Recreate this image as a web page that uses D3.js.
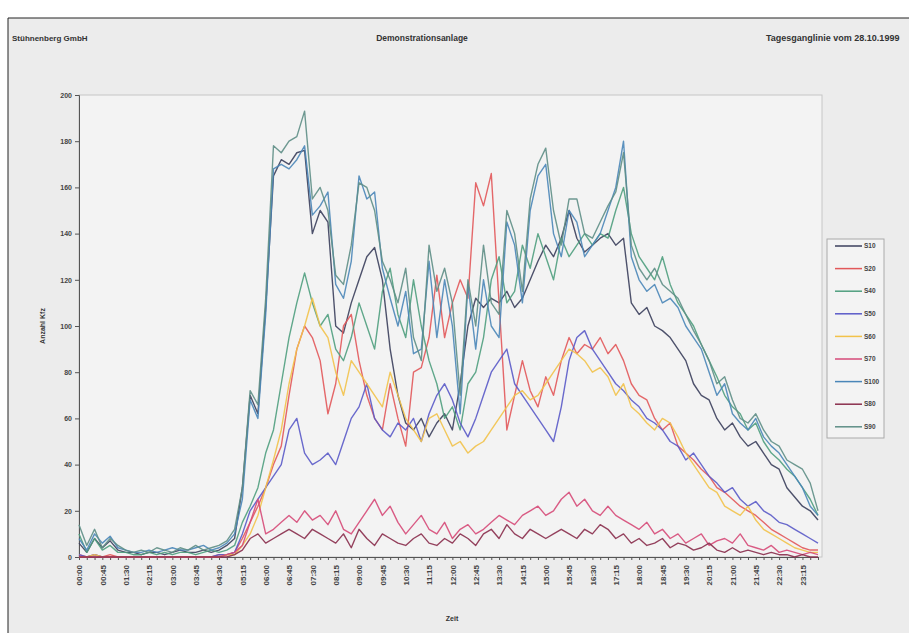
<html>
<head>
<style>
body
{
  margin:0;
  background:#fff;
}
</style>
<script src="https://cdnjs.cloudflare.com/ajax/libs/d3/7.8.5/d3.min.js"></script>
</head>
<body>
<script>
// 15 minute intervals over the day
var times = [
  "00:00","00:15","00:30","00:45","01:00","01:15","01:30","01:45","02:00","02:15","02:30","02:45",
  "03:00","03:15","03:30","03:45","04:00","04:15","04:30","04:45","05:00","05:15","05:30","05:45",
  "06:00","06:15","06:30","06:45","07:00","07:15","07:30","07:45","08:00","08:15","08:30","08:45",
  "09:00","09:15","09:30","09:45","10:00","10:15","10:30","10:45","11:00","11:15","11:30","11:45",
  "12:00","12:15","12:30","12:45","13:00","13:15","13:30","13:45","14:00","14:15","14:30","14:45",
  "15:00","15:15","15:30","15:45","16:00","16:15","16:30","16:45","17:00","17:15","17:30","17:45",
  "18:00","18:15","18:30","18:45","19:00","19:15","19:30","19:45","20:00","20:15","20:30","20:45",
  "21:00","21:15","21:30","21:45","22:00","22:15","22:30","22:45","23:00","23:15","23:30","23:45"
];

var tickLabels = [
  "00:00","00:45","01:30","02:15","03:00","03:45","04:30","05:15","06:00","06:45","07:30","08:15",
  "09:00","09:45","10:30","11:15","12:00","12:45","13:30","14:15","15:00","15:45","16:30","17:15",
  "18:00","18:45","19:30","20:15","21:00","21:45","22:30","23:15"
];

var yTicks = [0, 20, 40, 60, 80, 100, 120, 140, 160, 180, 200];

var seriesNames = ["S10", "S20", "S40", "S50", "S60", "S70", "S100", "S80", "S90"];
var seriesColors = ["#3b3f5c", "#e2585a", "#4f9e7e", "#5a5ac8", "#f2c24a", "#d64a78", "#4a86b8", "#8a2e4c", "#5e8e86"];

var s10 = [6,2,8,4,7,3,2,2,1,2,2,1,2,3,2,2,3,2,3,5,8,
  30,70,62,108,165,172,170,175,176,140,150,145,100,97,110,120,130,134,120,90,70,58,55,60,52,58,62,55,75,100,
  112,108,112,110,115,108,112,120,128,135,130,138,150,138,132,135,138,140,135,138,110,105,108,100,98,95,90,85,75,70,
  68,60,55,58,52,48,50,45,40,38,30,26,22,20,16];
var s20 = [1,0,1,0,1,0,0,0,0,0,0,0,0,0,0,0,0,0,1,1,2,
  8,15,22,30,40,48,70,90,100,95,85,62,75,100,105,85,70,60,55,75,60,48,80,82,95,
  122,95,110,120,112,162,152,166,110,55,70,85,72,65,78,70,85,95,88,92,90,95,88,92,85,
  75,70,68,60,55,58,48,45,42,38,35,30,28,25,22,20,18,15,12,10,8,6,4,3,3];
var s40 = [10,2,8,3,5,2,2,1,1,2,1,2,1,2,2,1,2,3,2,3,5,
  15,22,30,45,55,75,95,110,123,110,100,105,90,85,95,110,100,90,115,125,105,95,120,100,85,
  75,60,65,55,75,80,95,120,130,110,115,135,125,140,130,120,138,130,135,140,135,140,138,150,160,
  140,130,125,120,130,118,110,105,100,92,85,78,70,65,62,55,58,50,45,42,38,35,30,25,18];
var s50 = [1,0,1,0,0,0,0,0,0,0,0,0,0,0,0,0,0,0,1,1,2,
  10,20,25,30,35,40,55,60,45,40,42,45,40,50,60,65,75,60,55,52,58,55,60,50,62,
  70,75,68,58,52,60,70,80,85,90,75,70,65,60,55,50,65,85,95,98,90,85,80,75,72,
  68,65,60,58,55,50,48,42,45,40,35,32,28,30,25,22,24,20,18,15,14,12,10,8,6];
var s60 = [0,0,1,0,0,0,0,0,0,0,0,0,0,0,0,0,0,0,0,1,1,
  5,10,18,30,42,55,75,90,100,112,100,95,80,70,85,80,75,70,65,80,70,60,55,50,60,
  62,55,48,50,45,48,50,55,60,65,70,72,68,70,75,80,85,90,88,85,80,82,78,70,75,
  65,62,58,55,60,58,52,45,40,35,30,28,22,20,18,22,16,12,10,8,6,4,3,2,2];
var s70 = [0,0,0,0,0,0,0,0,0,0,0,0,0,0,0,0,0,0,0,1,2,
  5,15,25,10,12,15,18,15,20,16,18,14,20,12,10,15,20,25,18,22,15,10,14,18,12,
  10,15,8,12,14,10,12,15,18,16,14,18,20,22,18,20,25,28,22,25,20,18,22,18,16,
  14,12,15,10,12,8,10,6,8,10,5,7,8,6,10,5,4,3,5,2,3,2,1,2,1];
var s100 = [8,3,10,6,9,4,3,2,2,3,2,3,4,3,3,4,5,3,4,6,10,
  25,68,60,105,168,170,168,172,178,148,152,158,118,112,128,165,155,158,125,112,100,115,88,90,128,
  95,120,100,62,118,90,120,100,95,145,135,110,150,165,170,140,130,150,145,130,135,140,150,160,180,
  130,120,115,118,110,112,108,100,95,90,80,70,75,62,58,55,60,52,48,45,40,35,30,22,18];
var s80 = [0,0,0,0,0,0,0,0,0,0,0,0,0,0,0,0,0,0,0,0,1,
  3,8,10,6,8,10,12,10,8,12,10,8,6,10,4,12,8,5,10,8,6,5,8,10,6,
  5,8,6,10,8,5,10,12,8,14,10,8,12,10,8,10,12,10,8,12,10,14,12,8,10,
  6,8,5,6,8,4,6,5,3,4,6,3,2,4,2,3,2,1,2,1,1,0,1,0,0];
var s90 = [14,5,12,4,8,5,3,2,3,2,4,3,2,4,3,5,3,4,5,7,12,
  30,72,66,112,178,175,180,182,193,155,160,150,122,118,135,162,160,150,128,120,110,125,95,85,135,
  115,125,110,70,120,100,135,110,105,150,140,115,155,170,177,150,135,155,155,140,138,145,152,158,175,
  135,125,120,125,118,115,112,105,98,92,85,75,78,68,60,58,62,55,50,48,42,40,38,32,20];

var seriesValues = [s10, s20, s40, s50, s60, s70, s100, s80, s90];

var W = 909, H = 633;
var plotLeft = 79, plotRight = 818, plotTop = 95, plotBottom = 557;
var fontFam = "'Liberation Sans', Arial, sans-serif";

var svg = d3.select("body").append("svg")
  .attr("width", W)
  .attr("height", H)
  .style("font-family", fontFam);

// chart area
svg.append("rect").attr("x", 8).attr("y", 18).attr("width", W).attr("height", H)
  .attr("fill", "#ececec");
svg.append("line").attr("x1", 8).attr("x2", W).attr("y1", 18).attr("y2", 18).attr("stroke", "#222");
svg.append("line").attr("x1", 8).attr("x2", 8).attr("y1", 18).attr("y2", H).attr("stroke", "#222");

// header
svg.append("text").attr("x", 12).attr("y", 41).text("Stühnenberg GmbH")
  .attr("font-size", 8).attr("font-weight", "bold").attr("fill", "#333");
svg.append("text").attr("x", 422).attr("y", 41).attr("text-anchor", "middle").text("Demonstrationsanlage")
  .attr("font-size", 8.5).attr("font-weight", "bold").attr("fill", "#333");
svg.append("text").attr("x", 766).attr("y", 41).text("Tagesganglinie vom 28.10.1999")
  .attr("font-size", 9).attr("font-weight", "bold").attr("fill", "#333");

var x = d3.scalePoint().domain(times).range([plotLeft, plotRight]);
var y = d3.scaleLinear().domain([0, 200]).range([plotBottom, plotTop]);

svg.append("rect")
  .attr("x", plotLeft).attr("y", plotTop)
  .attr("width", 822 - plotLeft).attr("height", plotBottom - plotTop)
  .attr("fill", "#f3f3f3").attr("stroke", "#c6c6c6");

// y axis
var gy = svg.append("g").attr("transform", "translate(" + plotLeft + ",0)")
  .call(d3.axisLeft(y).tickValues(yTicks).tickSize(4).tickPadding(3));
gy.select(".domain").attr("stroke", "#555");
gy.selectAll(".tick line").attr("stroke", "#555");
gy.selectAll(".tick text").attr("font-size", 7).attr("font-weight", "bold").attr("fill", "#444")
  .attr("font-family", fontFam);

// x axis
var gx = svg.append("g").attr("transform", "translate(0," + plotBottom + ")")
  .call(d3.axisBottom(x).tickValues(times).tickSize(3).tickSizeOuter(0)
    .tickFormat(function(d){ return tickLabels.indexOf(d) >= 0 ? d : ""; }));
gx.select(".domain").attr("stroke", "#555");
gx.selectAll(".tick line").attr("stroke", "#555");
gx.selectAll(".tick text")
  .attr("font-size", 8).attr("font-weight", "bold").attr("fill", "#444")
  .attr("font-family", fontFam)
  .attr("text-anchor", "end")
  .attr("dy", "0.35em")
  .attr("transform", "translate(0,8) rotate(-90)")
  .attr("x", 0).attr("y", 0);

// axis titles
svg.append("text")
  .attr("transform", "translate(45," + ((plotTop + plotBottom) / 2) + ") rotate(-90)")
  .attr("text-anchor", "middle").text("Anzahl Kfz")
  .attr("font-size", 7).attr("font-weight", "bold").attr("fill", "#333");
svg.append("text").attr("x", 452).attr("y", 621).attr("text-anchor", "middle").text("Zeit")
  .attr("font-size", 7).attr("font-weight", "bold").attr("fill", "#333");

// lines
var line = d3.line()
  .x(function(d, i){ return x(times[i]); })
  .y(function(d){ return y(d); });

seriesValues.forEach(function(vals, k){
  svg.append("path")
    .datum(vals)
    .attr("d", line)
    .attr("fill", "none")
    .attr("stroke", seriesColors[k])
    .attr("stroke-width", 1.4)
    .attr("stroke-linejoin", "round")
    .attr("opacity", 0.9);
});

// legend
var lg = svg.append("g");
lg.append("rect").attr("x", 827).attr("y", 239).attr("width", 57).attr("height", 199)
  .attr("fill", "#f3f3f3").attr("stroke", "#aaa");
seriesNames.forEach(function(n, k){
  var ly = 246 + k * 22.6;
  lg.append("line").attr("x1", 835).attr("x2", 862).attr("y1", ly).attr("y2", ly)
    .attr("stroke", seriesColors[k]).attr("stroke-width", 1.5);
  lg.append("text").attr("x", 864).attr("y", ly).attr("dy", "0.35em").text(n)
    .attr("font-size", 6.5).attr("font-weight", "bold").attr("fill", "#444");
});
</script>
</body>
</html>
